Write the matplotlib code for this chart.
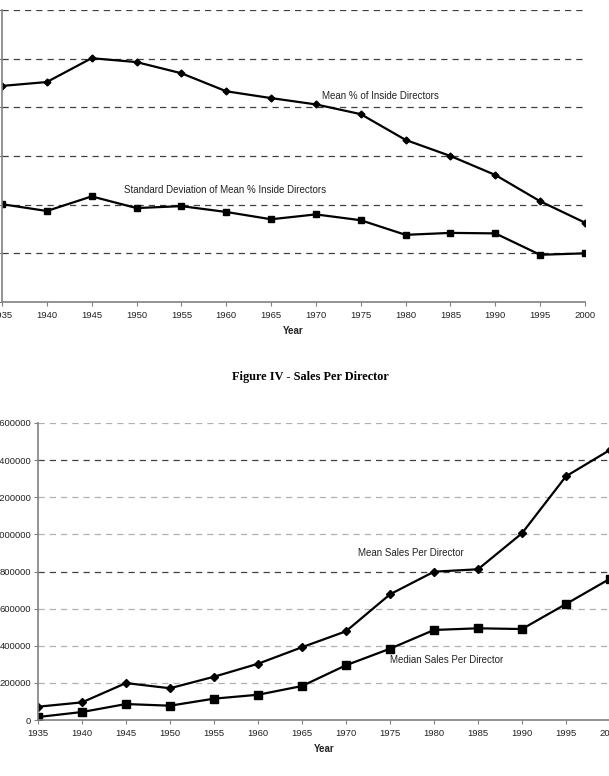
import numpy as np
import matplotlib.pyplot as plt

years = [1935, 1940, 1945, 1950, 1955, 1960, 1965, 1970, 1975, 1980, 1985, 1990, 1995, 2000]

# top panel (percent of inside directors)
mean_inside = [44.4, 45.2, 50.1, 49.3, 47.0, 43.3, 41.9, 40.6, 38.6, 33.3, 30.0, 26.1, 20.7, 16.3]
std_inside = [20.1, 18.7, 21.7, 19.3, 19.7, 18.5, 17.0, 18.0, 16.8, 13.8, 14.2, 14.1, 9.7, 10.0]

# bottom panel (sales per director)
mean_sales = [71600, 95000, 199000, 171000, 233000, 303000, 392000, 478000, 677000,
              799000, 812000, 1006000, 1313000, 1455000]
median_sales = [16000, 43000, 86000, 77000, 115000, 136000, 183000, 295000, 384000,
                485000, 494000, 490000, 625000, 761000]

plt.rcParams['font.family'] = ['Liberation Sans', 'DejaVu Sans']
W, H = 609, 776
fig = plt.figure(figsize=(W / 100, H / 100), dpi=100)

spine_c = '#808080'
grid_c = '#404040'
text_c = '#222222'


def style(ax):
    ax.spines['top'].set_visible(False)
    ax.spines['right'].set_visible(False)
    for s in ['left', 'bottom']:
        ax.spines[s].set_color(spine_c)
        ax.spines[s].set_linewidth(1.2)
    ax.tick_params(axis='both', colors=spine_c, labelcolor=text_c, labelsize=6.8,
                   length=3, direction='out')
    ax.set_xticks(years)
    ax.set_xlim(1935, 2000)
    ax.set_xlabel('Year', fontsize=7, fontweight='bold', color=text_c, labelpad=4)


# ---- top chart ----
ax1 = fig.add_axes([2 / W, 1 - 302 / H, 583 / W, 292 / H])
for g in range(10, 70, 10):
    ax1.axhline(g, color=grid_c, lw=0.9, ls=(0, (5, 4)), zorder=0)
ax1.plot(years, mean_inside, color='black', lw=1.6, marker='D', ms=3.5)
ax1.plot(years, std_inside, color='black', lw=1.6, marker='s', ms=4.5)
ax1.set_ylim(0, 60)
ax1.set_yticks(range(0, 70, 10))
ax1.set_yticklabels([])
style(ax1)
ax1.text(1970.7, 42.3, 'Mean % of Inside Directors', fontsize=7, color=text_c, va='center')
ax1.text(1948.6, 23.0, 'Standard Deviation of Mean % Inside Directors', fontsize=7,
         color=text_c, va='center')

# ---- bottom chart ----
fig.text(310 / W, 1 - 377 / H, 'Figure IV - Sales Per Director', ha='center', va='center',
         fontsize=8.8, fontweight='bold', family='Liberation Serif')
ax2 = fig.add_axes([38 / W, 1 - 720 / H, 572 / W, 297 / H])
for g in range(200000, 1800000, 200000):
    dark = g in (800000, 1400000)
    ax2.axhline(g, color=grid_c if dark else '#b0b0b0', lw=0.9, ls=(0, (5, 4)), zorder=0)
ax2.plot(years, mean_sales, color='black', lw=1.6, marker='D', ms=4)
ax2.plot(years, median_sales, color='black', lw=1.6, marker='s', ms=6)
ax2.set_ylim(0, 1600000)
ax2.set_yticks(range(0, 1800000, 200000))
ax2.set_yticklabels([str(v) for v in range(0, 1800000, 200000)])
style(ax2)
ax2.tick_params(axis='y', pad=2)
ax2.text(1971.4, 900000, 'Mean Sales Per Director', fontsize=7, color=text_c, va='center')
ax2.text(1975.0, 323000, 'Median Sales Per Director', fontsize=7, color=text_c, va='center')

fig.savefig('out.png', dpi=100)
